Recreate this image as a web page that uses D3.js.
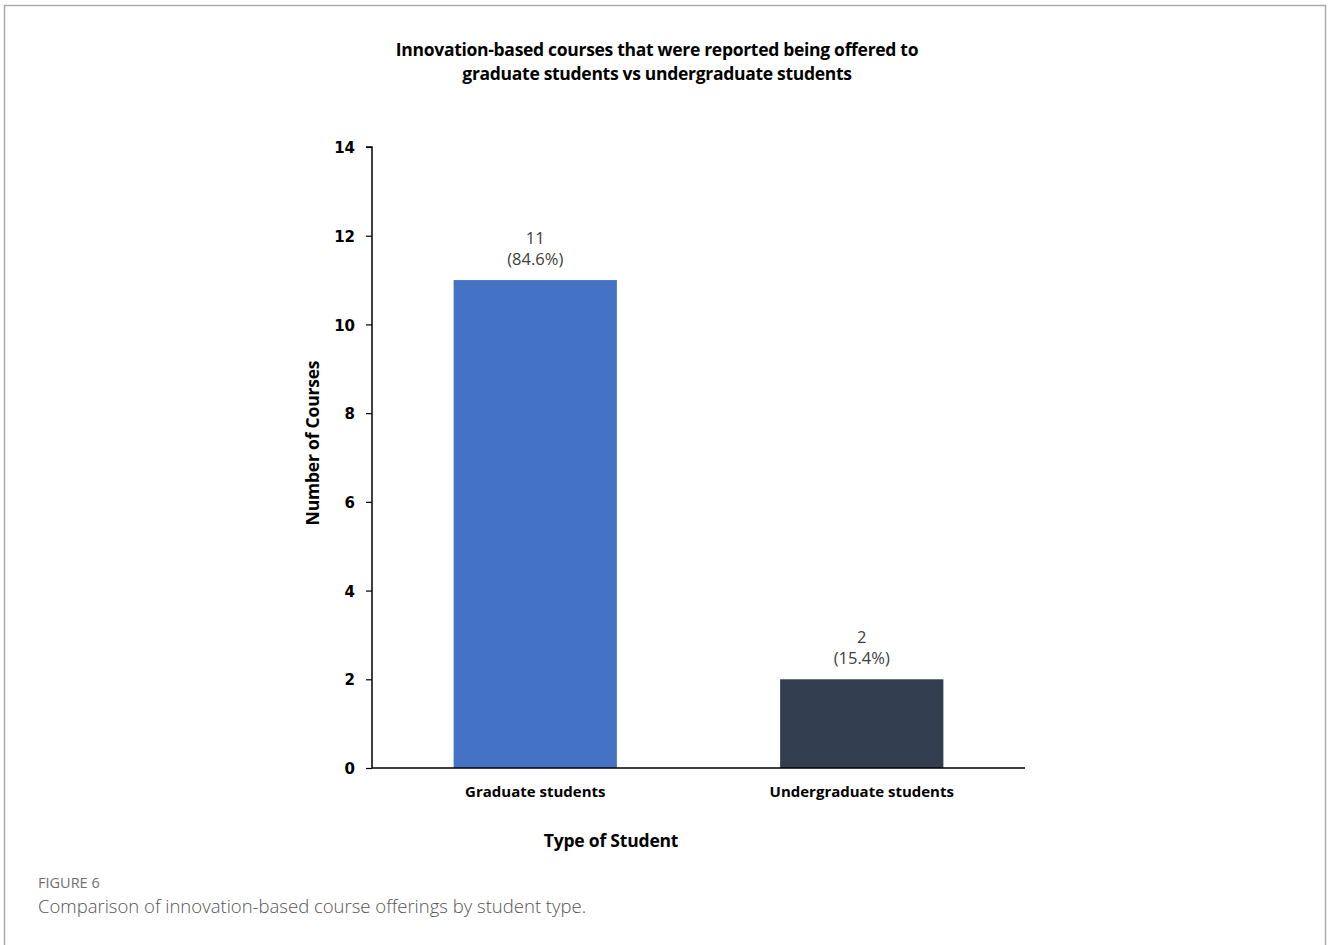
<!DOCTYPE html>
<html>
<head>
<meta charset="utf-8">
<script src="https://cdn.jsdelivr.net/npm/d3@7"></script>
<style>
html, body { margin: 0; padding: 0; background: #fff; }
svg { display: block; }
</style>
</head>
<body>
<script>
const categories = ["Graduate students", "Undergraduate students"];
const counts = [11, 2];
const percents = ["84.6%", "15.4%"];
const barColors = ["#4472C4", "#323E4F"];
const yTicks = [0, 2, 4, 6, 8, 10, 12, 14];
const titleLines = ["Innovation-based courses that were reported being offered to", "graduate students vs undergraduate students"];

(function () {
const W = 1328, H = 945;
const svg = d3.select("body").append("svg").attr("width", W).attr("height", H);

// frame
svg.append("path")
  .attr("d", "M4.5,945 L4.5,5.5 L1325.5,5.5 L1325.5,945")
  .attr("fill", "none").attr("stroke", "#aaaaaa").attr("stroke-width", 1.5);

const pL = 372, pR = 1025, pT = 147, pB = 768;
const x = d3.scaleBand().domain(categories).range([pL, pR]).paddingInner(0.5).paddingOuter(0.25);
const y = d3.scaleLinear().domain([0, 14]).range([pB, pT]);

// title
svg.append("text")
  .attr("x", 657).attr("y", 56)
  .attr("text-anchor", "middle")
  .style("font-family", "'Open Sans', sans-serif").style("font-weight", "700").style("font-size", "17.5px")
  .style("letter-spacing", "-0.3px").attr("fill", "#000")
  .selectAll("tspan").data(titleLines).join("tspan")
  .attr("x", 657).attr("dy", (d, i) => i === 0 ? 0 : 24).text(d => d);

// bars
const data = categories.map((c, i) => ({ c, v: counts[i], p: percents[i], col: barColors[i] }));
svg.append("g").selectAll("rect").data(data).join("rect")
  .attr("x", d => x(d.c)).attr("width", x.bandwidth())
  .attr("y", d => y(d.v)).attr("height", d => y(0) - y(d.v))
  .attr("fill", d => d.col);

// labels
const lab = svg.append("g").selectAll("text").data(data).join("text")
  .attr("text-anchor", "middle")
  .style("font-family", "'Open Sans', sans-serif").style("font-size", "16.5px").attr("fill", "#404040");
lab.append("tspan").attr("x", d => x(d.c) + x.bandwidth() / 2).attr("y", d => y(d.v) - 36).text(d => d.v);
lab.append("tspan").attr("x", d => x(d.c) + x.bandwidth() / 2).attr("y", d => y(d.v) - 15).text(d => "(" + d.p + ")");

// y axis
const yAxis = svg.append("g").attr("transform", `translate(${pL},0)`)
  .call(d3.axisLeft(y).tickValues(yTicks).tickSize(6).tickPadding(11).tickFormat(d3.format("d")));
yAxis.select(".domain").attr("stroke", "#000").attr("stroke-width", 1.5).attr("d", `M-6,${pT}H0V${pB}`);
yAxis.selectAll(".tick line").attr("stroke", "#000").attr("stroke-width", 1.2);
yAxis.selectAll(".tick text").style("font-family", "'DejaVu Sans', sans-serif").style("font-weight", "700")
  .style("font-size", "15px").attr("fill", "#000").attr("dy", "0.38em");

// x axis
const xAxis = svg.append("g").attr("transform", `translate(0,${pB})`)
  .call(d3.axisBottom(x).tickSize(0).tickPadding(20));
xAxis.select(".domain").attr("stroke", "#000").attr("stroke-width", 1.5).attr("d", `M${pL},0H${pR}`);
xAxis.selectAll(".tick text").style("font-family", "'Open Sans', sans-serif").style("font-weight", "700")
  .style("font-size", "15px").attr("fill", "#000").attr("dy", "0.6em");

// axis titles
svg.append("text").attr("transform", "translate(319,443) rotate(-90)")
  .attr("text-anchor", "middle")
  .style("font-family", "'Open Sans', sans-serif").style("font-weight", "700").style("font-size", "17.5px")
  .style("letter-spacing", "-0.2px").text("Number of Courses");
svg.append("text").attr("x", 611).attr("y", 847).attr("text-anchor", "middle")
  .style("font-family", "'Open Sans', sans-serif").style("font-weight", "700").style("font-size", "17.5px")
  .style("letter-spacing", "-0.2px").text("Type of Student");

// caption
svg.append("text").attr("x", 38).attr("y", 888)
  .style("font-family", "'Open Sans', sans-serif").style("font-size", "14.5px").attr("fill", "#707070")
  .text("FIGURE 6");
svg.append("text").attr("x", 38).attr("y", 913)
  .style("font-family", "'Open Sans', sans-serif").style("font-weight", "300").style("font-size", "18.5px").attr("fill", "#555")
  .text("Comparison of innovation-based course offerings by student type.");
})();
</script>
</body>
</html>
